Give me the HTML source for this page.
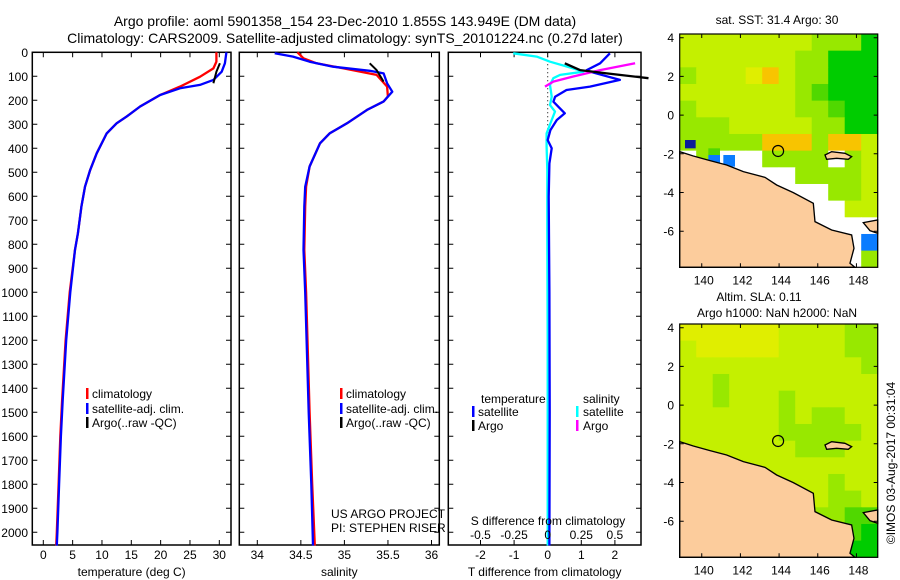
<!DOCTYPE html>
<html><head><meta charset="utf-8"><style>
body{margin:0;background:#fff}
svg{display:block;font-family:"Liberation Sans",sans-serif}
text{fill:#000}
</style></head><body>
<svg id="c" width="900" height="580" viewBox="0 0 900 580" xmlns="http://www.w3.org/2000/svg">
<text x="345" y="26" font-size="14" text-anchor="middle">Argo profile: aoml 5901358_154 23-Dec-2010 1.855S 143.949E (DM data)</text>
<text x="345" y="43" font-size="14" text-anchor="middle">Climatology: CARS2009. Satellite-adjusted climatology: synTS_20101224.nc (0.27d later)</text>
<g id="g"></g>
</svg>
<script>
// ---- data ----
const depthTicks=[0,100,200,300,400,500,600,700,800,900,1000,1100,1200,1300,1400,1500,1600,1700,1800,1900,2000];
const tempTicks=[0,5,10,15,20,25,30];
const salTicks=[34,34.5,35,35.5,36];
const tdTicks=[-2,-1,0,1,2];
const sdTicks=[-0.5,-0.25,0,0.25,0.5];
const sdTickLabels=["-0.5","-0.25","0","0.25","0.5"];
const tClimDepth=[0,39,67,102,143,178,226,268,296,338,421,490,560,643,754,823,1000,1200,1450,1600,1800,2000,2055];
const tClimVal=[29.5,29.5,29.0,26.7,23.3,19.9,16.5,14.2,12.5,10.8,9.1,8.0,7.1,6.5,5.9,5.4,4.5,3.8,3.2,2.9,2.6,2.3,2.2];
const tSatDepth=[0,46,81,115,136,150,178,226,268,296,338,421,490,560,643,754,823,1000,1200,1450,1600,1800,2000,2055];
const tSatVal=[31.2,30.95,30.4,29.0,26.7,23.3,19.9,16.5,14.2,12.5,10.8,9.1,8.0,7.1,6.5,5.9,5.4,4.6,3.9,3.3,3.0,2.7,2.4,2.3];
const tArgoDepth=[46,81,129];
const tArgoVal=[30.1,29.5,29.0];
const sClimDepth=[0,25,46,67,94,143,184,205,240,296,338,379,476,560,643,823,1000,1500,1800,2055];
const sClimVal=[34.46,34.53,34.68,34.99,35.37,35.49,35.5,35.45,35.26,35.03,34.83,34.72,34.6,34.56,34.55,34.54,34.56,34.6,34.63,34.66];
const sSatDepth=[4,18,39,60,77,88,129,164,205,240,296,338,379,476,560,643,823,1000,1500,1800,2055];
const sSatVal=[34.2,34.41,34.6,34.87,35.29,35.45,35.49,35.55,35.45,35.26,35.03,34.83,34.72,34.6,34.55,34.54,34.53,34.55,34.59,34.62,34.64];
const sArgoDepth=[46,74,122];
const sArgoVal=[35.29,35.37,35.45];
const tdSatDepth=[4,46,74,81,115,143,157,185,206,254,282,324,366,400,463,602,1000,1500,2055];
const tdSatVal=[1.85,1.56,1.16,1.26,2.15,1.26,0.56,0.22,0.17,0.51,0.27,0.08,0.0,0.12,0.05,0.03,0.05,0.06,0.05];
const tdArgoDepth=[46,74,88,108];
const tdArgoVal=[0.51,0.96,1.76,3.0];
const sdSatDepth=[4,18,39,67,81,94,108,136,185,220,247,282,338,393,490,740,1200,2055];
const sdSatVal=[-0.257,-0.082,0.017,0.19,0.266,0.092,0.042,0.017,0.03,0.017,0.054,0.03,-0.008,-0.008,-0.003,-0.003,0,0];
const sdArgoDepth=[143,122,101,74,46];
const sdArgoVal=[-0.02,0.042,0.19,0.39,0.65];
const lonTicks=[140,142,144,146,148];
const latTicks=[4,2,0,-2,-4,-6];
const sstGrid=["YYYYYYYYGGGD","YYYYYYYGGDDD","GYYYyOYGGDDD","YYYYYYYGgDDD","GYYYYYYGGgDD","GGGYYYYYGGDD","GGGGGOOOGOOY","WGWWWGGGGWGY","WWWWWWWGGGGY","WWWWWWWWWGGY","WWWWWWWWWWYY","WWWWWWWWWWWW","WWWWWWWWWWWB","WWWWWWWWWWWG"];
const slaGrid=["yyyyyyYYYYGG","YyyyyyYYYYGG","YYYYYYYYYYYG","YYGYYYYYYYYY","YYGYYYGYYYYY","YYYYYYGYGGYY","YYYYYYGGGGGY","YYYYYYYGGGYY","YYYYYYYYYYYY","YYYYYYYYYGYY","YYYYYYYYYGGY","YYYYYYYYGGgg","YYYYYYYYYggD","YYYYYYYYYgDD"];
const argoLon=143.949, argoLat=-1.855;

const NS='http://www.w3.org/2000/svg';
const G=document.getElementById('g');
function mk(t,a,p){const e=document.createElementNS(NS,t);for(const k in a)e.setAttribute(k,a[k]);(p||G).appendChild(e);return e;}
const yD=d=>52.3+d*0.24;
const TOP=52.3,BOT=545;
const xT=v=>43.3+v*5.867;
const xS=v=>257.3+(v-34)*87.1;
const xTd=v=>547.7+v*33.6;
const xSd=v=>547.7+v*134.4;

function panel(name,x0,x1,ticks,xf,labels,xlabel){
  const r=mk('rect',{x:x0,y:TOP,width:x1-x0,height:BOT-TOP,fill:'none',stroke:'#000','stroke-width':1.5});
  
  
  ticks.forEach((t,i)=>{const x=xf(t);
    const l=mk('path',{d:`M${x} ${TOP}v5M${x} ${BOT}v-5`,stroke:'#000','stroke-width':1});
    
    
    if(labels){const tx=mk('text',{x:x,y:BOT+14,'font-size':12,'text-anchor':'middle'});tx.textContent=labels[i];
      
      }
  });
  depthTicks.forEach(d=>{const y=yD(d);
    const l=mk('path',{d:`M${x0} ${y}h5M${x1} ${y}h-5`,stroke:'#000','stroke-width':1});
    
    });
  if(xlabel){const t=mk('text',{x:(x0+x1)/2,y:BOT+31,'font-size':12,'text-anchor':'middle'});t.textContent=xlabel;
    
    }
}
function line(name,ds,vs,xf,col,w){
  let d='';ds.forEach((dd,i)=>{d+=(i?'L':'M')+xf(vs[i]).toFixed(1)+' '+yD(dd).toFixed(1);});
  const p=mk('path',{d:d,fill:'none',stroke:col,'stroke-width':w||2.3,'stroke-linejoin':'round'});
  
  
}
function txt(name,x,y,s,fs,anchor,col){const t=mk('text',{x:x,y:y,'font-size':fs||12,'text-anchor':anchor||'start'});if(col)t.setAttribute('fill',col);t.textContent=s;
  
  return t;}
function mark(name,x,y,col){const r=mk('rect',{x:x,y:y-10,width:2.5,height:11,fill:col});
  
  }

depthTicks.forEach(d=>txt('depth-label',28,yD(d)+4.5,String(d),12,'end'));

panel('temperature-panel',32.3,231,tempTicks,xT,tempTicks.map(String),'temperature (deg C)');
line('temp-climatology-line',tClimDepth,tClimVal,xT,'#f00');
line('temp-satellite-line',tSatDepth,tSatVal,xT,'#00f');
line('temp-argo-line',tArgoDepth,tArgoVal,xT,'#000',2);
mark('legend-climatology-marker',86,398,'#f00');txt('legend-climatology',92,398,'climatology');
mark('legend-satellite-marker',86,413,'#00f');txt('legend-satellite',92,413,'satellite-adj. clim.');
mark('legend-argo-marker',86,427,'#000');txt('legend-argo',92,427,'Argo(..raw -QC)');

panel('salinity-panel',239.3,439.3,salTicks,xS,salTicks.map(String),'salinity');
line('sal-climatology-line',sClimDepth,sClimVal,xS,'#f00');
line('sal-satellite-line',sSatDepth,sSatVal,xS,'#00f');
line('sal-argo-line',sArgoDepth,sArgoVal,xS,'#000',2);
mark('legend2-climatology-marker',340,398,'#f00');txt('legend2-climatology',346,398,'climatology');
mark('legend2-satellite-marker',340,413,'#00f');txt('legend2-satellite',346,413,'satellite-adj. clim.');
mark('legend2-argo-marker',340,427,'#000');txt('legend2-argo',346,427,'Argo(..raw -QC)');
txt('project-label',331,518,'US ARGO PROJECT');
txt('pi-label',331,532,'PI: STEPHEN RISER');

panel('difference-panel',448.3,641,tdTicks,xTd,tdTicks.map(String),'T difference from climatology');
{const z=mk('path',{d:`M547.7 ${TOP}V${yD(360)}`,stroke:'#000','stroke-width':1,'stroke-dasharray':'1 3'});
 
 }
line('sdiff-satellite-line',sdSatDepth,sdSatVal,xSd,'#0ff');
line('tdiff-satellite-line',tdSatDepth,tdSatVal,xTd,'#00f');
line('sdiff-argo-line',sdArgoDepth,sdArgoVal,xSd,'#f0f');
line('tdiff-argo-line',tdArgoDepth,tdArgoVal,xTd,'#000');
txt('legend3-temperature-head',481,403,'temperature');txt('legend3-salinity-head',583,403,'salinity');
mark('legend3-tsat-marker',472,416,'#00f');txt('legend3-tsat',478,416,'satellite');
mark('legend3-targo-marker',472,430,'#000');txt('legend3-targo',478,430,'Argo');
mark('legend3-ssat-marker',576,416,'#0ff');txt('legend3-ssat',583,416,'satellite');
mark('legend3-sargo-marker',576,430,'#f0f');txt('legend3-sargo',583,430,'Argo');
txt('s-diff-axis-title',548,525,'S difference from climatology',12,'middle');
sdTicks.forEach((s,i)=>txt('s-diff-tick-label',xSd(s),539,sdTickLabels[i],12,'middle'));

// ---- maps ----
const COL={Y:'#c4f000',y:'#e0ee00',G:'#98e800',g:'#50d800',D:'#00cc00',O:'#f8c400',W:'#fff',B:'#0a7cff',N:'#0a1e9a'};
const MX0=679.7,MX1=877.7,LON0=138.86,LONW=10.24;
const xLon=l=>MX0+(l-LON0)*(MX1-MX0)/LONW;
function map(name,y0,grid,title,extra){
  const y1=y0+233.3;
  const yLat=l=>y0+3.7+(4-l)*19.35;
  const rows=grid.length,cols=grid[0].length,cw=(MX1-MX0)/cols,ch=(y1-y0)/rows;
  grid.forEach((row,r)=>{[...row].forEach((c,k)=>{
    const e=mk('rect',{x:MX0+k*cw,y:y0+r*ch,width:cw+0.5,height:ch+0.5,fill:COL[c]});
    
    });});
  if(extra)extra(y0);
  const gl=mk('g',{transform:`translate(650 ${y0-34}) scale(0.3333)`});
  
  
  mk('path',{d:'M89 455L130 468L180 482L230 495L280 515L345 532L380 555L430 578L490 610L495 665L545 690L605 705L612 745L600 790L615 802L89 802Z',fill:'#fccc9c',stroke:'#000','stroke-width':4},gl);
  mk('path',{d:'M640 668L683 660L683 700L660 692Z',fill:'#fccc9c',stroke:'#000','stroke-width':4},gl);
  mk('path',{d:'M525 465L545 455L585 460L605 470L595 478L560 475L530 478Z',fill:'#fccc9c',stroke:'#000','stroke-width':4},gl);
  const fr=mk('rect',{x:MX0,y:y0,width:MX1-MX0,height:y1-y0,fill:'none',stroke:'#000','stroke-width':1.2});
  
  
  const ci=mk('circle',{cx:xLon(argoLon),cy:yLat(argoLat),r:5.5,fill:'none',stroke:'#000','stroke-width':1.2});
  
  
  lonTicks.forEach(l=>{const x=xLon(l);
    const t=mk('path',{d:`M${x} ${y0}v4M${x} ${y1}v-4`,stroke:'#000'});
    
    
    txt(name+'-lon-label',x+2,y1+17,String(l),12,'middle');});
  latTicks.forEach(l=>{const y=yLat(l);
    const t=mk('path',{d:`M${MX0} ${y}h4M${MX1} ${y}h-4`,stroke:'#000'});
    
    
    txt(name+'-lat-label',674,y+4.5,String(l),12,'end');});
  title();
}
map('sst-map',34,sstGrid,()=>txt('sst-map-title',777,24,'sat. SST: 31.4 Argo: 30',12,'middle'),(y0)=>{
  const sq=[[105,420,32,25,'N'],[175,465,35,25,'B'],[220,465,35,35,'B'],[175,445,35,20,'g']];
  sq.forEach(s=>{const e=mk('rect',{x:650+s[0]/3,y:y0-34+s[1]/3,width:s[2]/3,height:s[3]/3,fill:COL[s[4]]});
    
    });
});
map('sla-map',324,slaGrid,()=>{txt('sla-map-title',759,301,'Altim. SLA: 0.11',12,'middle');txt('sla-map-subtitle',777,317,'Argo h1000: NaN h2000: NaN',12,'middle');});
const cp=txt('copyright-label',0,0,'©IMOS 03-Aug-2017 00:31:04',12,'middle');
cp.setAttribute('transform','translate(895 463) rotate(-90)');
</script>
</body></html>
